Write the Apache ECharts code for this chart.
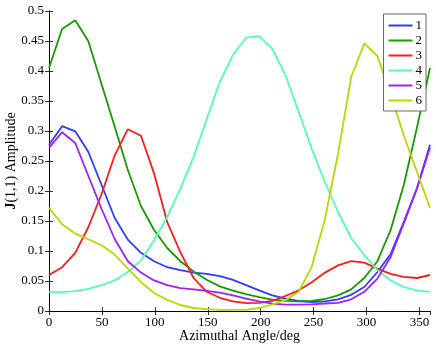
<!DOCTYPE html>
<html>
<head>
<meta charset="utf-8">
<script src="https://cdn.jsdelivr.net/npm/echarts@6/dist/echarts.min.js"></script>
<style>
  html, body { margin: 0; padding: 0; background: #fff; }
  #chart { width: 436px; height: 344px; }
</style>
</head>
<body>
<div id="chart"></div>
<script>
// azimuthal angles (deg)
var angles = [0, 12.4, 24.8, 37.2, 49.7, 62.1, 74.5, 86.9, 99.3, 111.7, 124.1, 136.6, 149.0, 161.4, 173.8,
  186.2, 198.6, 211.0, 223.4, 235.9, 248.3, 260.7, 273.1, 285.5, 297.9, 310.3, 322.8, 335.2, 347.6, 360];

var s1 = [0.277, 0.308, 0.2995, 0.265, 0.21, 0.155, 0.119, 0.097, 0.083, 0.073, 0.068, 0.064, 0.062, 0.058, 0.052,
  0.043, 0.0345, 0.026, 0.0205, 0.0167, 0.015, 0.016, 0.0195, 0.027, 0.04, 0.065, 0.095, 0.148, 0.204, 0.277];
var s2 = [0.405, 0.47, 0.4845, 0.4495, 0.378, 0.307, 0.235, 0.175, 0.135, 0.105, 0.083, 0.066, 0.052, 0.041, 0.034,
  0.028, 0.023, 0.019, 0.017, 0.016, 0.017, 0.02, 0.026, 0.036, 0.055, 0.083, 0.135, 0.21, 0.305, 0.405];
var s3 = [0.06, 0.073, 0.097, 0.14, 0.195, 0.2595, 0.303, 0.292, 0.229, 0.148, 0.098, 0.055, 0.032, 0.022, 0.016,
  0.013, 0.0135, 0.017, 0.025, 0.0345, 0.048, 0.064, 0.076, 0.083, 0.0807, 0.0707, 0.062, 0.057, 0.055, 0.06];
var s4 = [0.032, 0.0315, 0.033, 0.037, 0.043, 0.051, 0.065, 0.0845, 0.118, 0.157, 0.204, 0.257, 0.32, 0.382, 0.427,
  0.4555, 0.458, 0.437, 0.393, 0.332, 0.27, 0.215, 0.165, 0.1217, 0.093, 0.068, 0.051, 0.04, 0.0345, 0.032];
var s5 = [0.272, 0.298, 0.28, 0.225, 0.17, 0.12, 0.083, 0.064, 0.051, 0.043, 0.038, 0.036, 0.0335, 0.0305, 0.026,
  0.0205, 0.016, 0.0123, 0.0107, 0.0107, 0.011, 0.0125, 0.0134, 0.0195, 0.032, 0.054, 0.09, 0.146, 0.204, 0.272];
var s6 = [0.172, 0.1445, 0.129, 0.1195, 0.1095, 0.094, 0.0707, 0.048, 0.03, 0.0185, 0.01, 0.005, 0.003, 0.002, 0.002,
  0.002, 0.005, 0.011, 0.018, 0.032, 0.074, 0.153, 0.262, 0.39, 0.446, 0.425, 0.36, 0.293, 0.232, 0.172];

var names = ['1', '2', '3', '4', '5', '6'];
var colors = ['#2b3dff', '#1a9a00', '#ff1a1a', '#4dffb3', '#a020f8', '#bcd600'];
var values = [s1, s2, s3, s4, s5, s6];

var font = 'Liberation Serif, DejaVu Serif, serif';

function pairs(ys) {
  return angles.map(function (a, i) { return [a, ys[i]]; });
}

var chart = echarts.init(document.getElementById('chart'));

var tickStyle = { show: true, inside: true, length: 4, lineStyle: { color: '#000', width: 0.8 } };
var lineStyle = { show: true, lineStyle: { color: '#000', width: 1 } };

var option = {
  backgroundColor: '#fff',
  animation: false,
  grid: { left: 49, right: 6, top: 11, bottom: 33, outerBoundsMode: 'none', containLabel: false },
  legend: {
    orient: 'vertical',
    right: 10,
    top: 14,
    padding: [5, 4, 4, 5],
    itemWidth: 24,
    itemHeight: 14,
    itemGap: 2,
    icon: 'path://M0,0L24,0L24,2L0,2Z',
    borderColor: '#444',
    borderWidth: 0.8,
    backgroundColor: '#fff',
    data: names,
    textStyle: { fontFamily: font, fontSize: 13, color: '#000', padding: [0, 0, 0, -2] }
  },
  xAxis: [{
    type: 'value',
    min: 0, max: 360, interval: 50,
    name: 'Azimuthal Angle/deg',
    nameLocation: 'middle',
    nameGap: 18,
    nameMoveOverlap: false,
    nameTextStyle: { fontFamily: font, fontSize: 14, color: '#000' },
    axisLine: lineStyle,
    axisTick: tickStyle,
    splitLine: { show: false },
    axisLabel: { fontFamily: font, fontSize: 13, color: '#000', margin: 5, showMaxLabel: false }
  }, {
    type: 'value',
    position: 'top',
    min: 0, max: 360, interval: 50,
    axisLine: lineStyle,
    axisTick: tickStyle,
    splitLine: { show: false },
    axisLabel: { show: false }
  }],
  yAxis: [{
    type: 'value',
    min: 0, max: 0.5, interval: 0.05,
    name: '{b|J}(1,1) Amplitude',
    nameLocation: 'middle',
    nameGap: 31,
    nameMoveOverlap: false,
    nameTextStyle: {
      fontFamily: font, fontSize: 14, color: '#000',
      rich: { b: { fontFamily: font, fontSize: 14, fontWeight: 'bold', color: '#000' } }
    },
    axisLine: lineStyle,
    axisTick: tickStyle,
    splitLine: { show: false },
    axisLabel: { fontFamily: font, fontSize: 13, color: '#000', margin: 5 }
  }, {
    type: 'value',
    position: 'right',
    min: 0, max: 0.5, interval: 0.05,
    axisLine: lineStyle,
    axisTick: tickStyle,
    splitLine: { show: false },
    axisLabel: { show: false }
  }],
  series: names.map(function (n, k) {
    return {
      name: n,
      type: 'line',
      xAxisIndex: 0,
      yAxisIndex: 0,
      symbol: 'none',
      color: colors[k],
      lineStyle: { color: colors[k], width: 1.8 },
      data: pairs(values[k])
    };
  })
};

chart.setOption(option);
</script>
</body>
</html>
